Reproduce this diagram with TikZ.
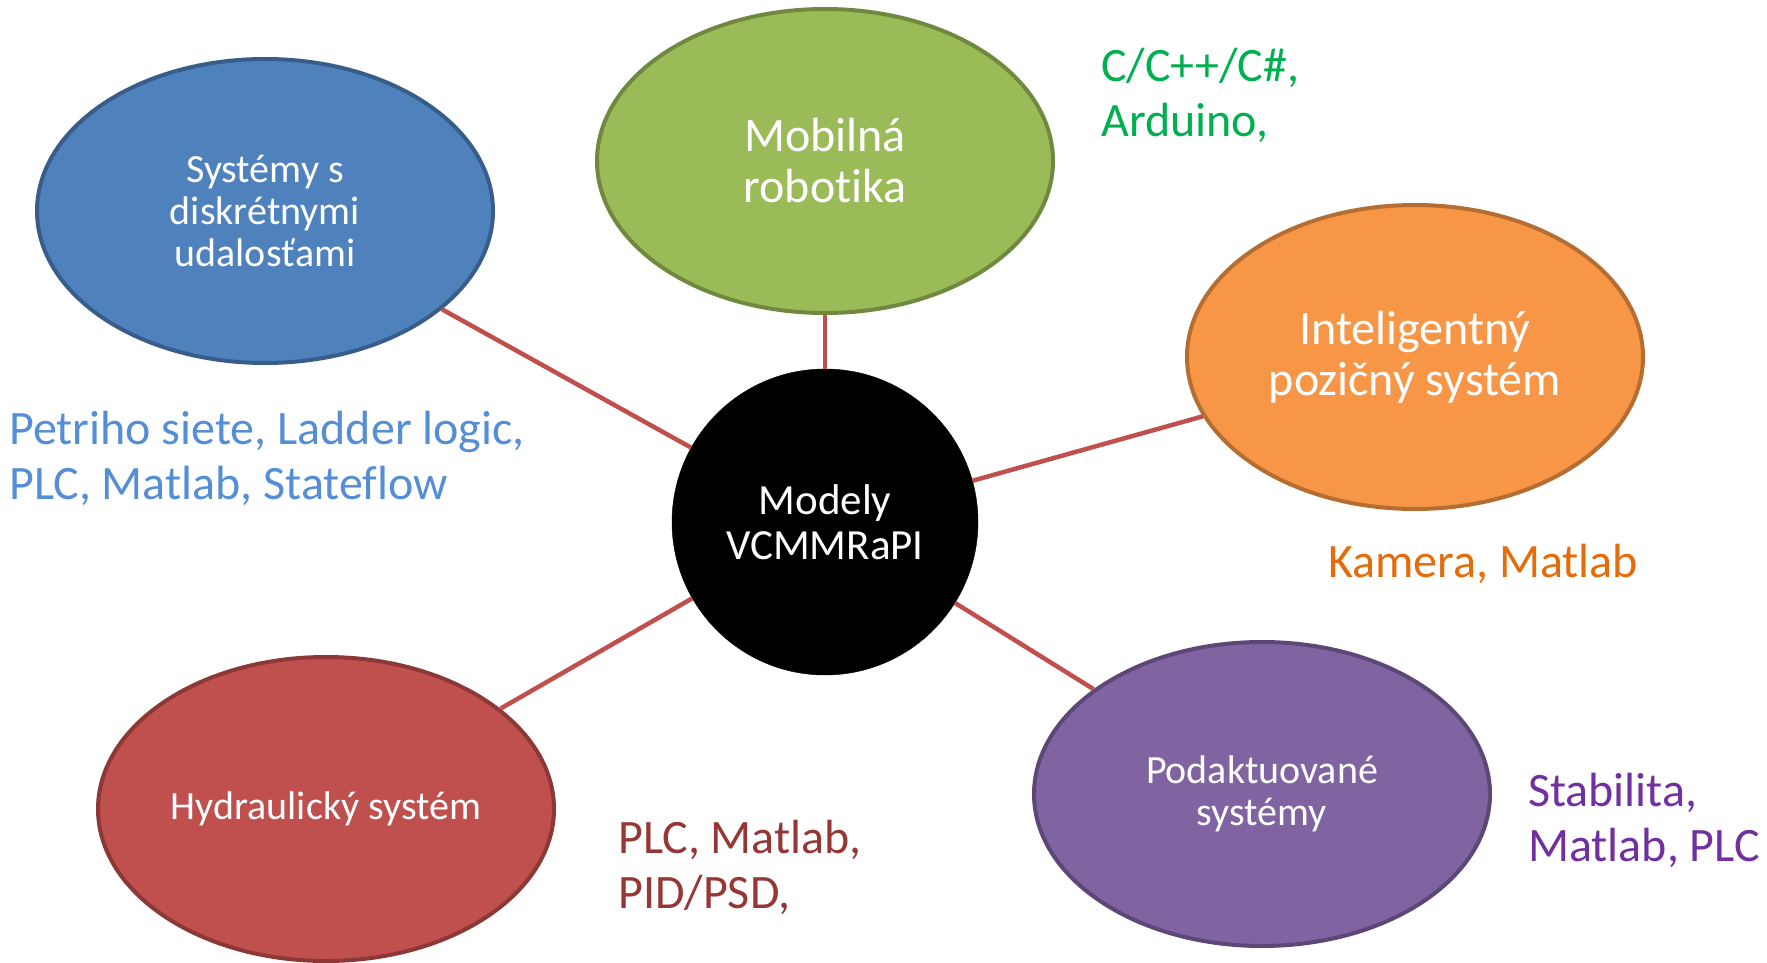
\documentclass[tikz,border=0pt]{standalone}
\usepackage{fontspec}
\setmainfont{Carlito}[Ligatures=NoCommon]
\usetikzlibrary{positioning,shapes.geometric}
\definecolor{sdsfill}{HTML}{4F81BD}
\definecolor{sdsline}{HTML}{385D8A}
\definecolor{mobfill}{HTML}{9BBB59}
\definecolor{mobline}{HTML}{71893F}
\definecolor{ipsfill}{HTML}{F79646}
\definecolor{ipsline}{HTML}{B66D31}
\definecolor{hydfill}{HTML}{C0504D}
\definecolor{hydline}{HTML}{8C3836}
\definecolor{podfill}{HTML}{8064A2}
\definecolor{podline}{HTML}{5C4776}
\definecolor{linkred}{HTML}{C0504D}
\definecolor{sdstext}{HTML}{558ED5}
\definecolor{mobtext}{HTML}{00B050}
\definecolor{ipstext}{HTML}{E46C0A}
\definecolor{hydtext}{HTML}{953735}
\definecolor{podtext}{HTML}{7030A0}
\tikzset{
    bubble/.style={ellipse, fill=#1fill, draw=#1line, line width=4pt,
        minimum width=456pt, minimum height=304pt, inner sep=0pt,
        text=white, align=center},
    small/.style={font=\fontsize{40}{42}\selectfont},
    big/.style={font=\fontsize{48}{51}\selectfont},
    tools/.style={anchor=base west, align=left, inner sep=0pt,
        font=\fontsize{48}{55}\selectfont, text=#1text},
    link/.style={draw=linkred, line width=4.5pt},
}

\begin{document}
\begin{tikzpicture}[x=1pt,y=-1pt]
      \useasboundingbox (0,0) rectangle (1767,963);

      \node[circle, fill=black, draw=black, minimum size=306pt, inner sep=0pt,
            text=white, align=center, font=\fontsize{43}{45}\selectfont]
            (mod) at (825,522) {Modely\\VCMMRaPI};

      \node[bubble=sds, small] (sds) at (265,211) {Systémy s\\diskrétnymi\\udalosťami};
      \node[bubble=mob, big] (mob) at (825,161) {Mobilná\\robotika};
      \node[bubble=ips, big] (ips) at (1415,357) {Inteligentný\\pozičný systém};
      \node[bubble=hyd, small] (hyd) at (326,809) {Hydraulický systém};
      \node[bubble=pod, small] (pod) at (1262,794) {Podaktuované\\systémy};

      \foreach \n in {sds,mob,ips,hyd,pod}
      \draw[link] (mod) -- (\n);

      % tools for each model (anchored at the last baseline)
      \node[tools=sds] (sdsTools) at (9,499) {Petriho siete, Ladder logic,\\PLC, Matlab, Stateflow};
      \node[tools=mob] (mobTools) at (1101,137) {C/C++/C\#,\\Arduino,};
      \node[tools=ips] (ipsTools) at (1328,577) {Kamera, Matlab};
      \node[tools=hyd] (hydTools) at (618,908) {PLC, Matlab,\\PID/PSD,};
      \node[tools=pod] (podTools) at (1528,861) {Stabilita,\\Matlab, PLC};
\end{tikzpicture}
\end{document}
